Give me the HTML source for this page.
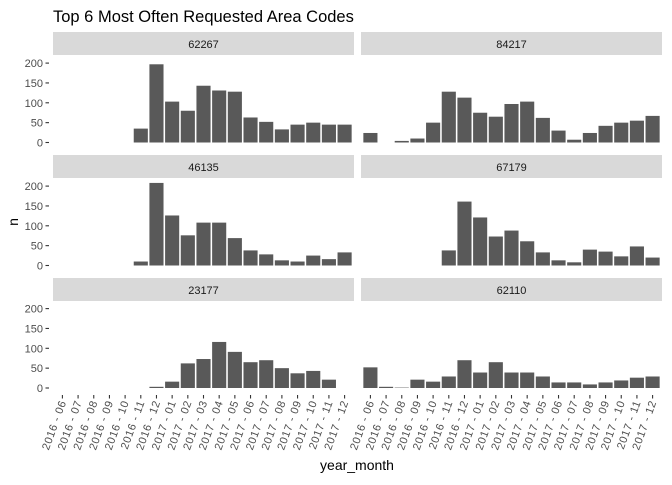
<!DOCTYPE html>
<html><head><meta charset="utf-8"><style>
body{margin:0;background:#fff}
svg text{font-family:"Liberation Sans",sans-serif}
</style></head><body>
<svg id="c" width="672" height="480"></svg>
<script>
const categories=["2016-06","2016-07","2016-08","2016-09","2016-10","2016-11","2016-12","2017-01","2017-02","2017-03","2017-04","2017-05","2017-06","2017-07","2017-08","2017-09","2017-10","2017-11","2017-12"];
const panelNames=["62267","84217","46135","67179","23177","62110"];
const s62267=[null,null,null,null,null,35,197,103,80,143,131,128,63,52,33,45,50,45,45];
const s84217=[24,null,4,10,50,128,113,75,65,97,103,62,30,7,24,42,50,55,67];
const s46135=[null,null,null,null,null,10,208,126,76,108,108,69,38,28,13,10,25,16,33];
const s67179=[null,null,null,null,null,38,161,121,73,88,61,33,13,8,40,35,23,48,20];
const s23177=[null,null,null,null,null,null,3,16,62,73,116,91,65,70,50,37,43,21,null];
const s62110=[52,3,1,21,16,29,70,39,65,39,39,29,14,14,9,14,19,26,29];
const yTicks=[0,50,100,150,200];
const series=[s62267,s84217,s46135,s67179,s23177,s62110];
const svg=document.getElementById('c');
const NS="http://www.w3.org/2000/svg";
function mk(t,a,txt){const e=document.createElementNS(NS,t);for(const k in a)e.setAttribute(k,a[k]);if(txt!=null)e.textContent=txt;svg.appendChild(e);return e;}
const colX=[53,361],colW=301;
const rowZero=[142.5,265.5,388],rowStrip=[32,155,278];
const k=0.397;
const unit=colW/(categories.length+0.2);
function xPos(col,i){return colX[col]+(0.6+i)*unit;}
function yPos(row,v){return rowZero[row]-v*k;}
let t=mk('text',{x:53,y:22,'font-size':16.5,fill:'#000'},'Top 6 Most Often Requested Area Codes');


for(let p=0;p<6;p++){
  const row=Math.floor(p/2),col=p%2;
  const st=mk('rect',{x:colX[col],y:rowStrip[row],width:colW,height:23,fill:'#d9d9d9'});
  
  
  const sl=mk('text',{x:colX[col]+colW/2,y:rowStrip[row]+16,'font-size':11,fill:'#1a1a1a','text-anchor':'middle'},panelNames[p]);
  
  
  series[p].forEach((v,i)=>{
    if(v==null)return;
    const bw=unit*0.9;
    const b=mk('rect',{x:xPos(col,i)-bw/2,y:yPos(row,v),width:bw,height:v*k,fill:'#595959'});
    
    
  });
  if(col===0){
    yTicks.forEach(v=>{
      const y=yPos(row,v);
      mk('line',{x1:45.5,x2:49,y1:y,y2:y,stroke:'#333','stroke-width':1.1});
      const l=mk('text',{x:43,y:y+4,'font-size':11,fill:'#4d4d4d','text-anchor':'end'},v);
      
      
    });
  }
  if(row===2){
    categories.forEach((c,i)=>{
      const x=xPos(col,i),y0=rowZero[2]+7;
      mk('line',{x1:x,x2:x,y1:y0,y2:y0+3.5,stroke:'#333','stroke-width':1.1});
      const l=mk('text',{x:x+4,y:y0+7,'font-size':11,fill:'#4d4d4d','text-anchor':'end','letter-spacing':'0.6',transform:`rotate(-70 ${x+4} ${y0+7})`},c.replace('-',' - '));
      
      
    });
  }
}
t=mk('text',{x:357,y:470,'font-size':14,fill:'#000','text-anchor':'middle'},'year_month');


t=mk('text',{x:18,y:222,'font-size':14,fill:'#000','text-anchor':'middle',transform:'rotate(-90 18 222)'},'n');


</script>
</body></html>
